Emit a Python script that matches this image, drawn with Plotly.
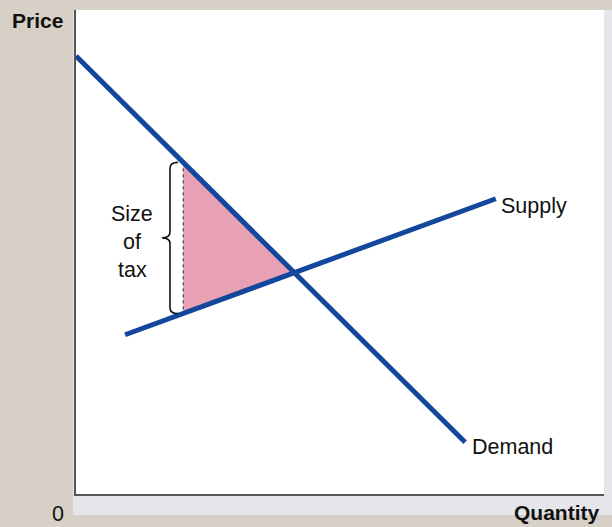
import plotly.graph_objects as go

# ---- data (axes run 0..10 in arbitrary units) ----
demand_x = [0.0, 7.37]
demand_y = [9.05, 1.07]
supply_x = [0.93, 7.95]
supply_y = [3.29, 6.10]
tax_quantity = 2.03
curve_labels = ["Supply", "Demand"]
tax_label_lines = ["Size", "of", "tax"]
axis_labels = {"y": "Price", "x": "Quantity", "origin": "0"}

BLUE = "#12479b"
PINK = "#e8a0b4"
BEIGE = "#d6d0c6"
STRIP = "#e5e5ea"
FONT = "Liberation Sans, Arial, Helvetica, sans-serif"
FS = 21.5
FSB = 21


def slope(xs, ys):
    return (ys[1] - ys[0]) / (xs[1] - xs[0])


def line_at(xs, ys, x):
    return ys[0] + slope(xs, ys) * (x - xs[0])


# equilibrium (intersection)
md, ms = slope(demand_x, demand_y), slope(supply_x, supply_y)
bd = demand_y[0] - md * demand_x[0]
bs = supply_y[0] - ms * supply_x[0]
eq_x = (bs - bd) / (md - ms)
eq_y = md * eq_x + bd

tax_top = line_at(demand_x, demand_y, tax_quantity)
tax_bot = line_at(supply_x, supply_y, tax_quantity)

fig = go.Figure()

# deadweight-loss triangle
fig.add_trace(go.Scatter(
    x=[tax_quantity, eq_x, tax_quantity, tax_quantity],
    y=[tax_top, eq_y, tax_bot, tax_top],
    mode="lines", fill="toself", fillcolor=PINK,
    line=dict(width=0, color=PINK), hoverinfo="skip", showlegend=False))

# dotted vertical tax line
fig.add_trace(go.Scatter(
    x=[tax_quantity, tax_quantity], y=[tax_top, tax_bot],
    mode="lines", line=dict(color="#222", width=1, dash="dot"),
    hoverinfo="skip", showlegend=False))

# supply and demand
fig.add_trace(go.Scatter(x=supply_x, y=supply_y, mode="lines",
                         line=dict(color=BLUE, width=5), showlegend=False))
fig.add_trace(go.Scatter(x=demand_x, y=demand_y, mode="lines",
                         line=dict(color=BLUE, width=5), showlegend=False))

# ---- brace ----
xe = tax_quantity - 0.10
xs_ = tax_quantity - 0.25
xt = tax_quantity - 0.40
ym = (tax_top + tax_bot) / 2
r = 0.12
brace = (f"M {xe},{tax_top} Q {xs_},{tax_top} {xs_},{tax_top - r} "
         f"L {xs_},{ym + r} Q {xs_},{ym} {xt},{ym} "
         f"Q {xs_},{ym} {xs_},{ym - r} "
         f"L {xs_},{tax_bot + r} Q {xs_},{tax_bot} {xe},{tax_bot}")

L, R, T, B = 76, 8, 10, 33
W, H = 612, 527
pw, ph = W - L - R, H - T - B


def px(x):
    return (x - L) / pw


def py(y):
    return (H - B - y) / ph


shapes = [
    dict(type="rect", xref="paper", yref="paper", layer="below",
         x0=px(73), x1=px(612), y0=py(515), y1=py(10),
         fillcolor=STRIP, line=dict(width=0)),
    dict(type="rect", xref="paper", yref="paper", layer="below",
         x0=0, x1=px(604), y0=0, y1=1,
         fillcolor="white", line=dict(width=0)),
    dict(type="path", path=brace, xref="x", yref="y",
         line=dict(color="#111", width=1.6)),
]

annotations = []
annotations.append(dict(x=supply_x[1], y=supply_y[1], xref="x", yref="y",
                        text=curve_labels[0], showarrow=False,
                        xanchor="left", yanchor="middle", xshift=3, yshift=-7,
                        font=dict(size=FS, color="#111", family=FONT)))
annotations.append(dict(x=demand_x[1], y=demand_y[1], xref="x", yref="y",
                        text=curve_labels[1], showarrow=False,
                        xanchor="left", yanchor="middle", xshift=5, yshift=-5,
                        font=dict(size=FS, color="#111", family=FONT)))
for i, t in enumerate(tax_label_lines):
    annotations.append(dict(x=px(132), y=py(214 + 28 * i), xref="paper", yref="paper",
                            text=t, showarrow=False, xanchor="center", yanchor="middle",
                            font=dict(size=FS, color="#111", family=FONT)))
annotations.append(dict(x=px(37), y=py(21), xref="paper", yref="paper",
                        text=f"<b>{axis_labels['y']}</b>", showarrow=False,
                        xanchor="center", yanchor="middle",
                        font=dict(size=FSB, color="#111", family=FONT)))
annotations.append(dict(x=px(58), y=py(514), xref="paper", yref="paper",
                        text=axis_labels["origin"], showarrow=False,
                        xanchor="center", yanchor="middle",
                        font=dict(size=FS, color="#111", family=FONT)))
annotations.append(dict(x=px(556), y=py(512), xref="paper", yref="paper",
                        text=f"<b>{axis_labels['x']}</b>", showarrow=False,
                        xanchor="center", yanchor="middle",
                        font=dict(size=FSB, color="#111", family=FONT)))

fig.update_layout(
    width=W, height=H,
    margin=dict(l=L, r=R, t=T, b=B, pad=0),
    paper_bgcolor=BEIGE, plot_bgcolor="white",
    shapes=shapes, annotations=annotations, showlegend=False,
    xaxis=dict(range=[0, 10], showgrid=False, zeroline=False, showticklabels=False,
               ticks="", showline=True, linecolor="#555", linewidth=2),
    yaxis=dict(range=[0, 10], showgrid=False, zeroline=False, showticklabels=False,
               ticks="", showline=True, linecolor="#555", linewidth=2),
)

fig.write_html(
    "out.html",
    config={"displayModeBar": False},
    post_script="document.body.style.margin='0';document.body.style.overflow='hidden';",
)
